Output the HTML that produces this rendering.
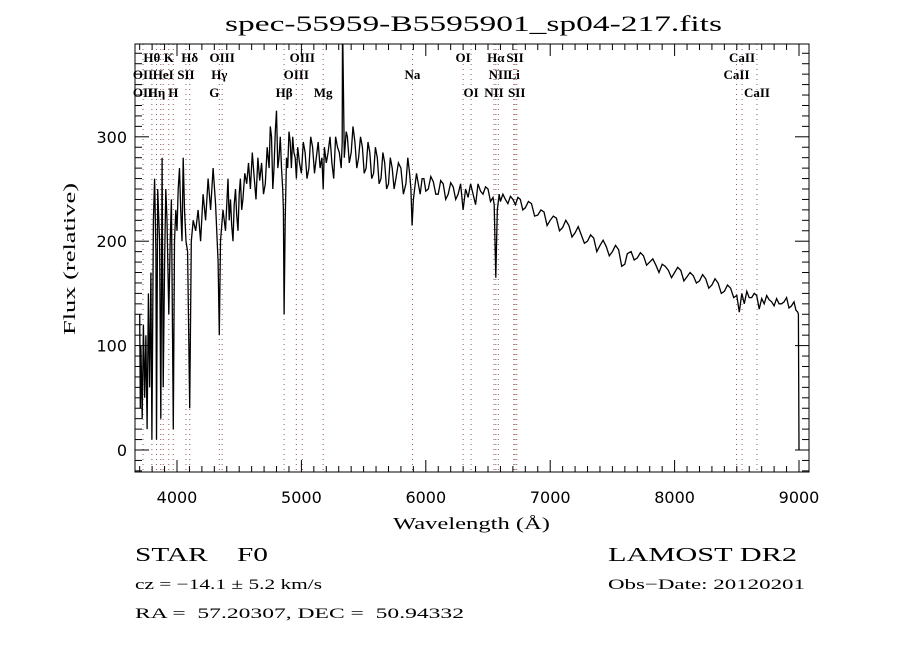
<!DOCTYPE html>
<html><head><meta charset="utf-8"><style>
body{margin:0;background:#fff;width:900px;height:650px;overflow:hidden}
svg{display:block}
.s{font-family:"Liberation Serif",serif}
.n{font-family:"DejaVu Sans","Liberation Sans",sans-serif}
</style></head><body>
<svg id="c" width="900" height="650">
<text class="s" x="225" y="31" font-size="22" textLength="497" lengthAdjust="spacingAndGlyphs">spec-55959-B5595901_sp04-217.fits</text>
<g id="lines"></g>
<g id="plot"></g>
<g id="axes"></g>
<text class="s" x="393" y="529" font-size="17" textLength="157" lengthAdjust="spacingAndGlyphs">Wavelength (Å)</text>
<text class="s" x="75" y="259" font-size="17" text-anchor="middle" textLength="152" lengthAdjust="spacingAndGlyphs" transform="rotate(-90 75 259)">Flux (relative)</text>
<text class="s" x="135" y="561" font-size="20" textLength="133" lengthAdjust="spacingAndGlyphs">STAR&#160;&#160;&#160;&#160;F0</text>
<text class="s" x="608" y="561" font-size="20" textLength="189" lengthAdjust="spacingAndGlyphs">LAMOST DR2</text>
<text class="s" x="135" y="589" font-size="15" textLength="187" lengthAdjust="spacingAndGlyphs">cz = −14.1 ± 5.2 km/s</text>
<text class="s" x="608" y="589" font-size="15" textLength="197" lengthAdjust="spacingAndGlyphs">Obs−Date: 20120201</text>
<text class="s" x="135" y="618" font-size="15" textLength="329" lengthAdjust="spacingAndGlyphs">RA =&#160;&#160;57.20307, DEC =&#160;&#160;50.94332</text>
</svg>
<script>
const waves=[3700,3705,3710,3720,3730,3740,3750,3760,3770,3780,3790,3798,3810,3820,3830,3835,3845,3860,3870,3880,3889,3900,3910,3920,3934,3945,3955,3970,3980,3990,4000,4010,4020,4030,4040,4050,4060,4072,4085,4102,4115,4130,4150,4170,4190,4210,4230,4250,4270,4290,4310,4330,4340,4350,4370,4390,4410,4420,4430,4440,4450,4460,4470,4480,4490,4500,4510,4520,4530,4545,4560,4575,4590,4605,4620,4635,4650,4665,4680,4695,4710,4725,4740,4750,4760,4770,4780,4790,4800,4810,4820,4830,4840,4850,4855,4861,4870,4880,4890,4900,4910,4920,4930,4940,4950,4960,4970,4985,5000,5015,5030,5045,5060,5075,5090,5105,5120,5135,5150,5165,5175,5185,5200,5215,5230,5245,5260,5275,5290,5305,5320,5328,5330,5332,5345,5360,5370,5385,5400,5415,5430,5445,5460,5475,5490,5505,5520,5535,5550,5565,5580,5595,5610,5625,5640,5655,5670,5685,5700,5715,5730,5745,5760,5780,5800,5820,5840,5855,5870,5880,5890,5900,5910,5925,5940,5955,5970,5985,6000,6020,6040,6060,6080,6100,6120,6140,6160,6180,6200,6220,6240,6260,6280,6300,6320,6340,6360,6380,6400,6420,6440,6460,6480,6500,6520,6540,6550,6563,6575,6590,6600,6620,6640,6660,6680,6700,6720,6740,6760,6780,6800,6825,6850,6875,6900,6925,6950,6975,7000,7025,7050,7075,7100,7125,7150,7175,7200,7225,7250,7275,7300,7325,7350,7375,7400,7425,7450,7475,7500,7525,7550,7575,7600,7620,7650,7675,7700,7725,7750,7775,7800,7825,7850,7875,7900,7925,7950,7975,8000,8025,8050,8075,8100,8125,8150,8175,8200,8225,8250,8275,8300,8325,8350,8375,8400,8425,8450,8475,8500,8520,8540,8560,8580,8600,8620,8640,8660,8680,8700,8720,8740,8760,8780,8800,8820,8840,8860,8880,8900,8920,8940,8960,8975,8990,8995,9000];
const flux=[130,40,100,30,120,50,110,20,150,60,170,10,220,260,190,10,250,200,30,280,60,180,250,220,130,200,240,20,200,230,210,250,270,230,200,280,230,200,190,40,200,220,210,230,200,245,220,260,230,270,235,180,110,200,230,210,260,220,240,215,200,235,250,225,210,245,260,230,240,265,255,275,250,285,262,240,280,258,275,245,255,290,270,310,300,250,270,305,325,270,280,300,270,250,230,130,220,280,270,305,295,270,300,285,280,260,290,275,265,295,285,260,270,300,290,265,280,295,270,280,250,290,275,285,300,275,260,300,290,285,270,295,400,400,280,305,300,275,285,310,295,270,280,300,290,265,270,295,285,260,265,290,280,255,260,285,275,250,255,280,270,250,260,275,270,245,255,280,265,250,215,240,250,265,255,245,260,260,248,250,262,257,245,245,258,255,240,245,256,252,240,245,255,230,250,242,255,245,235,255,248,245,252,250,238,242,235,165,230,245,238,245,240,236,243,240,235,242,240,230,232,238,236,224,225,230,228,215,220,224,222,210,213,220,215,204,208,214,206,198,200,206,203,190,196,201,195,186,190,196,192,176,178,188,190,182,184,189,186,177,180,183,177,170,178,176,172,165,170,175,172,162,166,170,167,160,162,168,164,155,158,164,160,150,152,158,155,146,148,132,150,140,152,146,146,150,148,135,145,140,148,144,142,138,145,140,140,142,146,136,138,142,134,132,130,0];
const xTicks=[4000,5000,6000,7000,8000,9000];
const yTicks=[0,100,200,300];
const lineWaves=[3727,3798,3835,3869,3889,3934,3970,4072,4102,4340,4363,4861,4959,5007,5175,5893,6300,6364,6548,6563,6583,6707,6717,6731,8498,8542,8662];
const lineLabels=[["Hθ",3798,1],["K",3934,1],["Hδ",4102,1],["OIII",4363,1],["OIII",5007,1],["OI",6300,1],["Hα",6563,1],["SII",6717,1],["CaII",8542,1],
["OII",3727,2],["HeI",3889,2],["SII",4072,2],["Hγ",4340,2],["OIII",4959,2],["Na",5893,2],["NII",6583,2],["Li",6707,2],["CaII",8498,2],
["OII",3727,3],["Hη",3835,3],["H",3970,3],["G",4300,3],["Hβ",4861,3],["Mg",5175,3],["OI",6364,3],["NII",6548,3],["SII",6731,3],["CaII",8662,3]];
const L=135,R=809,T=44,B=472;
const X=w=>177+(w-4000)*0.1244, Y=f=>450-f*1.044;
const NS="http://www.w3.org/2000/svg";
function mk(tag,attrs,parent){const e=document.createElementNS(NS,tag);for(const k in attrs)e.setAttribute(k,attrs[k]);parent.appendChild(e);return e;}
const gl=document.getElementById('lines'),gp=document.getElementById('plot'),ga=document.getElementById('axes');
lineWaves.forEach(w=>{const l=mk('line',{x1:X(w),x2:X(w),y1:T,y2:B,stroke:'#7a3030','stroke-width':1,'stroke-dasharray':'1 4','opacity':0.8},gl);

});
lineLabels.forEach(([t,w,r])=>{const e=mk('text',{x:X(w),y:[0,62,79,97][r],'text-anchor':'middle','font-size':13,'font-weight':'bold','class':'s'},gl);e.textContent=t;

});
const cp=mk('clipPath',{id:'cp'},gp);mk('rect',{x:L,y:T,width:R-L,height:B-T},cp);
const n=Math.min(waves.length,flux.length);
const pts=waves.slice(0,n).map((w,i)=>X(w).toFixed(1)+','+Y(flux[i]).toFixed(1)).join(' ');
const pl=mk('polyline',{points:pts,fill:'none',stroke:'#000','stroke-width':1.3,'clip-path':'url(#cp)'},gp);


const fr=mk('rect',{x:L,y:T,width:R-L,height:B-T,fill:'none',stroke:'#000','stroke-width':1},ga);


for(let w=3700;w<=9000;w+=100){const big=w%1000===0,len=big?12:6,x=X(w);
mk('line',{x1:x,x2:x,y1:B,y2:B-len,stroke:'#000'},ga);mk('line',{x1:x,x2:x,y1:T,y2:T+len,stroke:'#000'},ga);}
for(let f=-20;f<=380;f+=10){const big=f%100===0,len=big?14:7,y=Y(f);if(y<T||y>B)continue;
mk('line',{x1:L,x2:L+len,y1:y,y2:y,stroke:'#000'},ga);mk('line',{x1:R,x2:R-len,y1:y,y2:y,stroke:'#000'},ga);}
xTicks.forEach(w=>{const e=mk('text',{x:X(w),y:503,'text-anchor':'middle','font-size':16,'class':'n'},ga);e.textContent=w;

});
yTicks.forEach(f=>{const e=mk('text',{x:127,y:Y(f)+6,'text-anchor':'end','font-size':16,'class':'n'},ga);e.textContent=f;

});
</script>
</body></html>
